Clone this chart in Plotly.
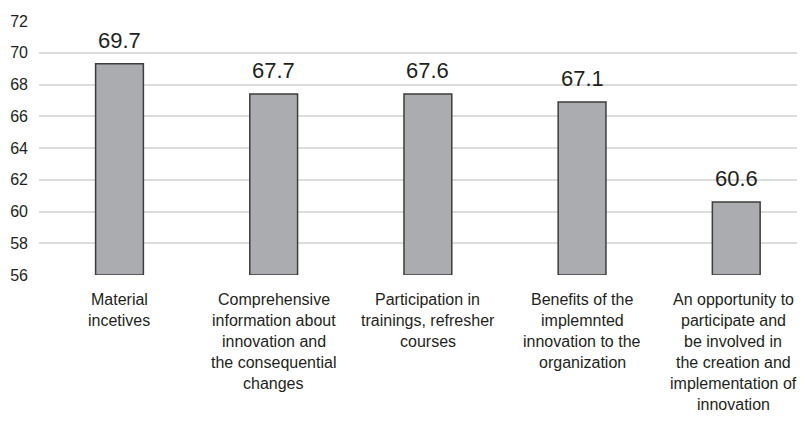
import plotly.graph_objects as go

categories = [
    "Material<br>incetives",
    "Comprehensive<br>information about<br>innovation and<br>the consequential<br>changes",
    "Participation in<br>trainings, refresher<br>courses",
    "Benefits of the<br>implemnted<br>innovation to the<br>organization",
    "An opportunity to<br>participate and<br>be involved in<br>the creation and<br>implementation of<br>innovation",
]
bar_heights = [69.3, 67.4, 67.4, 66.9, 60.6]
value_labels = ["69.7", "67.7", "67.6", "67.1", "60.6"]
y_ticks = [56, 58, 60, 62, 64, 66, 68, 70, 72]

FONT = "Liberation Sans, Arial, sans-serif"
TXT = "#231f20"

fig = go.Figure()
fig.add_trace(go.Bar(
    x=list(range(len(categories))),
    y=[h - 56 for h in bar_heights],
    base=56,
    width=0.31,
    marker=dict(color="#abacaf", line=dict(color="#3d3d3d", width=1.5)),
    hoverinfo="skip",
))

for i, (h, t) in enumerate(zip(bar_heights, value_labels)):
    fig.add_annotation(x=i, y=h, text=t, showarrow=False, yanchor="bottom",
                       yshift=9, font=dict(family=FONT, size=22, color=TXT))

# category labels, one text line per annotation so the line spacing matches
LINE_GAP = 21
for i, c in enumerate(categories):
    xs = -3 if i == len(categories) - 1 else 0
    for k, line in enumerate(c.split("<br>")):
        fig.add_annotation(x=i, y=0, yref="paper", text=line, showarrow=False,
                           yanchor="top", xanchor="center", align="center",
                           xshift=xs, yshift=-14 - k * LINE_GAP,
                           font=dict(family=FONT, size=16, color=TXT))

# page body has an 8px default margin: size the figure so the page does not overflow
fig.update_layout(
    width=789, height=407,
    margin=dict(l=31, r=0, t=13, b=140, autoexpand=False),
    paper_bgcolor="white", plot_bgcolor="white",
    showlegend=False,
    font=dict(family=FONT, color=TXT),
    xaxis=dict(
        range=[-0.522, 4.394],
        showticklabels=False, automargin=False,
        showgrid=False, zeroline=False, showline=False, ticks="",
    ),
    yaxis=dict(
        range=[56, 72], automargin=False,
        tickmode="array",
        tickvals=y_ticks,
        ticktext=[str(v) for v in y_ticks],
        tickfont=dict(family=FONT, size=16, color=TXT),
        showgrid=True, gridcolor="#dcdcdc", gridwidth=2,
        zeroline=False, showline=False, ticks="",
        ticklabelstandoff=10,
    ),
)

fig.write_html("out.html")
